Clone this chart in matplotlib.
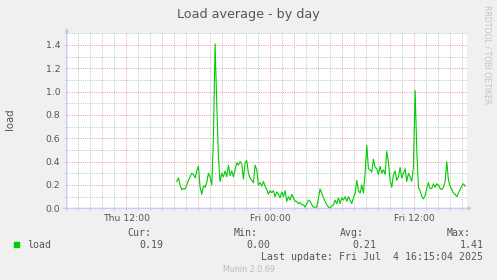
import numpy as np
import matplotlib
matplotlib.use('Agg')
import matplotlib.pyplot as plt
from matplotlib.ticker import MultipleLocator, FixedLocator, FixedFormatter
from matplotlib.patches import Rectangle

# load samples, one every 500 s, starting Thu 16:12 (hours counted from Thu 00:00)
start_hour = 16.2
step_sec = 500
load = [
    0.23, 0.26, 0.20, 0.16, 0.17, 0.165, 0.20, 0.24, 0.27, 0.30,
    0.29, 0.26, 0.32, 0.36, 0.18, 0.12, 0.19, 0.18, 0.22, 0.30,
    0.27, 0.20, 0.60, 1.41, 0.90, 0.44, 0.23, 0.30, 0.27, 0.32,
    0.27, 0.37, 0.28, 0.32, 0.27, 0.33, 0.39, 0.37, 0.40, 0.38,
    0.25, 0.39, 0.41, 0.30, 0.26, 0.24, 0.22, 0.37, 0.33, 0.20,
    0.22, 0.19, 0.23, 0.19, 0.16, 0.12, 0.15, 0.135, 0.15, 0.10,
    0.14, 0.12, 0.09, 0.14, 0.10, 0.15, 0.06, 0.10, 0.07, 0.12,
    0.09, 0.06, 0.06, 0.04, 0.05, 0.03, 0.03, 0.01, 0.04, 0.07,
    0.06, 0.03, 0.01, 0.01, 0.01, 0.09, 0.165,
    0.13, 0.09, 0.06, 0.03, 0.01, 0.00, 0.02, 0.03, 0.07, 0.04,
    0.09, 0.04, 0.09, 0.07, 0.10, 0.06, 0.10, 0.07, 0.04, 0.09,
    0.13, 0.24, 0.15, 0.13, 0.20, 0.13, 0.30, 0.54, 0.34, 0.33,
    0.31, 0.42, 0.35, 0.34, 0.29, 0.36, 0.30, 0.33, 0.29, 0.49,
    0.39, 0.24, 0.18, 0.29, 0.32, 0.24, 0.27, 0.35, 0.26, 0.30,
    0.34, 0.23, 0.30, 0.27, 0.23, 0.36, 1.01, 0.50, 0.18, 0.15,
    0.10, 0.08, 0.11, 0.17, 0.22, 0.17, 0.17, 0.21, 0.18, 0.21,
    0.20, 0.17, 0.16, 0.18, 0.23, 0.40, 0.24, 0.19, 0.16, 0.13,
    0.12, 0.10, 0.13, 0.16, 0.19, 0.21, 0.19,
]

tick_hours = [12, 18, 24, 30, 36]
tick_labels = ['Thu 12:00', '', 'Fri 00:00', '', 'Fri 12:00']

stat_names = ['Cur:', 'Min:', 'Avg:', 'Max:']
stat_values = ['0.19', '0.00', '0.21', '1.41']
last_update = 'Last update: Fri Jul  4 16:15:04 2025'

W, H = 497, 280
TXT = '#555555'
AXC = '#C4C4F4'


def px(x, y):
    return x / W, 1 - y / H


hours = start_hour + np.arange(len(load)) * step_sec / 3600.0

fig = plt.figure(figsize=(W / 100, H / 100), dpi=100, facecolor='#F0F0F0')
l, b = px(66.7, 208.3)
r, t = px(466.7, 32.7)
ax = fig.add_axes([l, b, r - l, t - b])
ax.set_facecolor('white')

ax.plot(hours, load, color='#00CC00', lw=0.8, zorder=5)

ax.set_xlim(7.03, 40.36)
ax.set_ylim(0, 1.505)

ax.xaxis.set_major_locator(FixedLocator(tick_hours))
ax.xaxis.set_major_formatter(FixedFormatter(tick_labels))
ax.xaxis.set_minor_locator(MultipleLocator(1))
ax.yaxis.set_major_locator(MultipleLocator(0.2))
ax.yaxis.set_minor_locator(MultipleLocator(0.1))
ax.yaxis.set_major_formatter(lambda v, p: '%.1f' % v)

ax.grid(which='minor', color='#C4C4C4', lw=0.72, ls=(0, (1, 1.2)))
ax.grid(which='major', color='#F2A0A0', lw=0.72, ls=(0, (1, 1.2)))
ax.set_axisbelow(True)

for s in ax.spines.values():
    s.set_visible(False)

ax.tick_params(axis='both', which='both', direction='out', labelsize=6.7,
               labelcolor=TXT, width=0.7)
ax.tick_params(axis='x', which='major', length=1.5, color='#F2A0A0', pad=2.5)
ax.tick_params(axis='x', which='minor', length=1.5, color='#C8C8C8')
ax.tick_params(axis='y', which='major', length=1.5, color='#F2A0A0', pad=3)
ax.tick_params(axis='y', which='minor', length=1.5, color='#C8C8C8')

# axis lines with arrows
ax.annotate('', xy=(1.013, 0), xytext=(-0.01, 0), xycoords='axes fraction',
            arrowprops=dict(arrowstyle='-|>', color=AXC, lw=0.8,
                            mutation_scale=5, shrinkA=0, shrinkB=0))
ax.annotate('', xy=(0, 1.027), xytext=(0, -0.015), xycoords='axes fraction',
            arrowprops=dict(arrowstyle='-|>', color=AXC, lw=0.8,
                            mutation_scale=5, shrinkA=0, shrinkB=0))

fig.text(*px(248.5, 18.3), 'Load average - by day', ha='center', va='baseline',
         fontsize=9.2, color=TXT)
fig.text(*px(10.3, 119), 'load', rotation=90, ha='center', va='center',
         fontsize=7.3, color=TXT)
fig.text(*px(487, 5), 'RRDTOOL / TOBI OETIKER', rotation=270, ha='center',
         va='top', fontsize=5.6, color='#C4C4C4')

mono = 'DejaVu Sans Mono'
fig.add_artist(Rectangle(px(14, 247), 5.3 / W, 5.3 / H, color='#00CC00',
                         transform=fig.transFigure))
fig.text(*px(26.7, 248), 'load', family=mono, fontsize=7.1, color=TXT,
         va='baseline')
name_x = [127.7, 234, 340, 446.7]
val_x = [139, 246, 352.3, 459.3]
for nm, vv, nx, vx in zip(stat_names, stat_values, name_x, val_x):
    fig.text(*px(nx, 236), nm, family=mono, fontsize=7.1, color=TXT, va='baseline')
    fig.text(*px(vx, 248), vv, family=mono, fontsize=7.1, color=TXT, va='baseline')
fig.text(*px(261.3, 260), last_update, family=mono, fontsize=7.1, color=TXT,
         va='baseline')
fig.text(*px(248.8, 272.3), 'Munin 2.0.69', ha='center', va='baseline',
         fontsize=5.8, color='#BBBBBB')

fig.savefig('out.png', dpi=100, facecolor=fig.get_facecolor())
